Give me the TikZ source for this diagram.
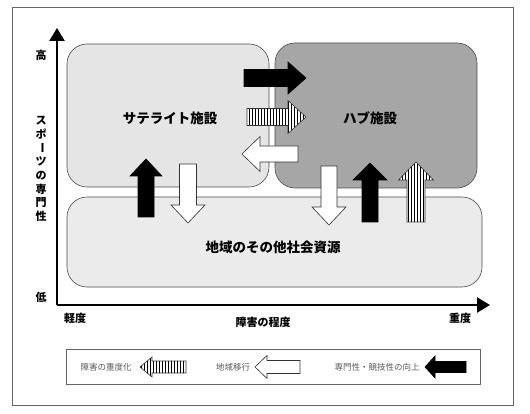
\documentclass[tikz,border=0pt]{standalone}
\usepackage{fontspec}
\newfontfamily\jp{Noto Sans CJK JP}
\usetikzlibrary{arrows.meta,patterns}
\newcommand{\hblk}[7][]{\draw[#1] (#2,{#5-#6}) -- (#3,{#5-#6}) -- (#3,{#5-#7}) -- (#4,#5) -- (#3,{#5+#7}) -- (#3,{#5+#6}) -- (#2,{#5+#6}) -- cycle;}
\newcommand{\vblk}[7][]{\draw[#1] ({#5-#6},#2) -- ({#5-#6},#3) -- ({#5-#7},#3) -- (#5,#4) -- ({#5+#7},#3) -- ({#5+#6},#3) -- ({#5+#6},#2) -- cycle;}
\tikzset{
  blackarr/.style={fill=black,draw=black,line width=0.6pt,line join=miter},
  whitearr/.style={fill=white,draw=black!80,line width=0.6pt,line join=miter},
  hatcharr/.style={preaction={fill=white},pattern=vertical lines,draw=black!80,line width=0.6pt,line join=miter},
  region/.style={draw=black!70,line width=0.6pt,rounded corners=20pt},
  biglabel/.style={font=\jp\bfseries\fontsize{13.5}{14}\selectfont},
  axlabel/.style={font=\jp\bfseries\fontsize{11}{12}\selectfont},
  leglabel/.style={font=\jp\fontsize{8.5}{9}\selectfont,text=black!65}
}
\begin{document}
\begin{tikzpicture}[x=1pt,y=-1pt]
\useasboundingbox (0,0) rectangle (530,414);
\fill[white] (0,0) rectangle (530,414);
\draw[black!60,line width=0.6pt] (12,7) rectangle (513,405);
% regions
\draw[region,fill=black!10] (67,44) rectangle (269,187);
\draw[region,fill=black!35] (275,43) rectangle (477,188);
\draw[region,fill=black!8] (67,197) rectangle (482,287);
\node[biglabel] (sat) at (170,118) {サテライト施設};
\node[biglabel] (hub) at (370,118) {ハブ施設};
\node[biglabel] (res) at (273,247) {地域のその他社会資源};
% axes
\coordinate (O) at (57,305);
\coordinate (ytip) at (57,28);
\coordinate (xtip) at (490,305);
\draw[line width=2.4pt,-{Triangle[width=15pt,length=13pt]}] (O) -- (ytip);
\draw[line width=2.4pt,-{Triangle[width=15pt,length=13pt]}] (O) -- (xtip);
\node[axlabel] (hi) at (41,55) {高};
\node[axlabel] (lo) at (41,297) {低};
\node[axlabel] (y1) at (41,120.5) {ス};
\node[axlabel] (y2) at (41,134.2) {ポ};
\node[axlabel] (y3) at (41,147.9) {\rotatebox[origin=c]{-90}{ー}};
\node[axlabel] (y4) at (41,161.6) {ツ};
\node[axlabel] (y5) at (41,175.3) {の};
\node[axlabel] (y6) at (41,189.0) {専};
\node[axlabel] (y7) at (41,202.7) {門};
\node[axlabel] (y8) at (41,216.4) {性};
\node[axlabel] (light) at (75,318) {軽度};
\node[axlabel] (deg) at (263,322) {障害の程度};
\node[axlabel] (heavy) at (460,318) {重度};
% block arrows
\hblk[blackarr]{244}{288}{306}{78}{8.5}{16}
\hblk[hatcharr]{247}{288}{306}{117}{8.5}{16.5}
\hblk[whitearr]{298}{260}{242}{154}{8}{17.5}
\vblk[blackarr]{217}{176}{159}{146}{8}{16}
\vblk[whitearr]{164}{205}{223}{188}{8.5}{17}
\vblk[whitearr]{166}{207}{225}{329}{8}{17}
\vblk[blackarr]{222}{180}{163}{370}{8}{17}
\vblk[hatcharr]{222}{180}{162}{416}{9}{17.5}
% legend
\draw[black!60,line width=0.8pt] (66,349) rectangle (480,384);
\node[leglabel] (l1) at (106,367) {障害の重度化};
\hblk[hatcharr]{186}{152}{140}{367}{6}{10}
\node[leglabel] (l2) at (233,367) {地域移行};
\hblk[whitearr]{300}{267}{255}{367}{6.5}{11.5}
\node[leglabel] (l3) at (377,367) {専門性・競技性の向上};
\hblk[blackarr]{466}{435}{425}{367}{5.5}{11}
\end{tikzpicture}
\end{document}
